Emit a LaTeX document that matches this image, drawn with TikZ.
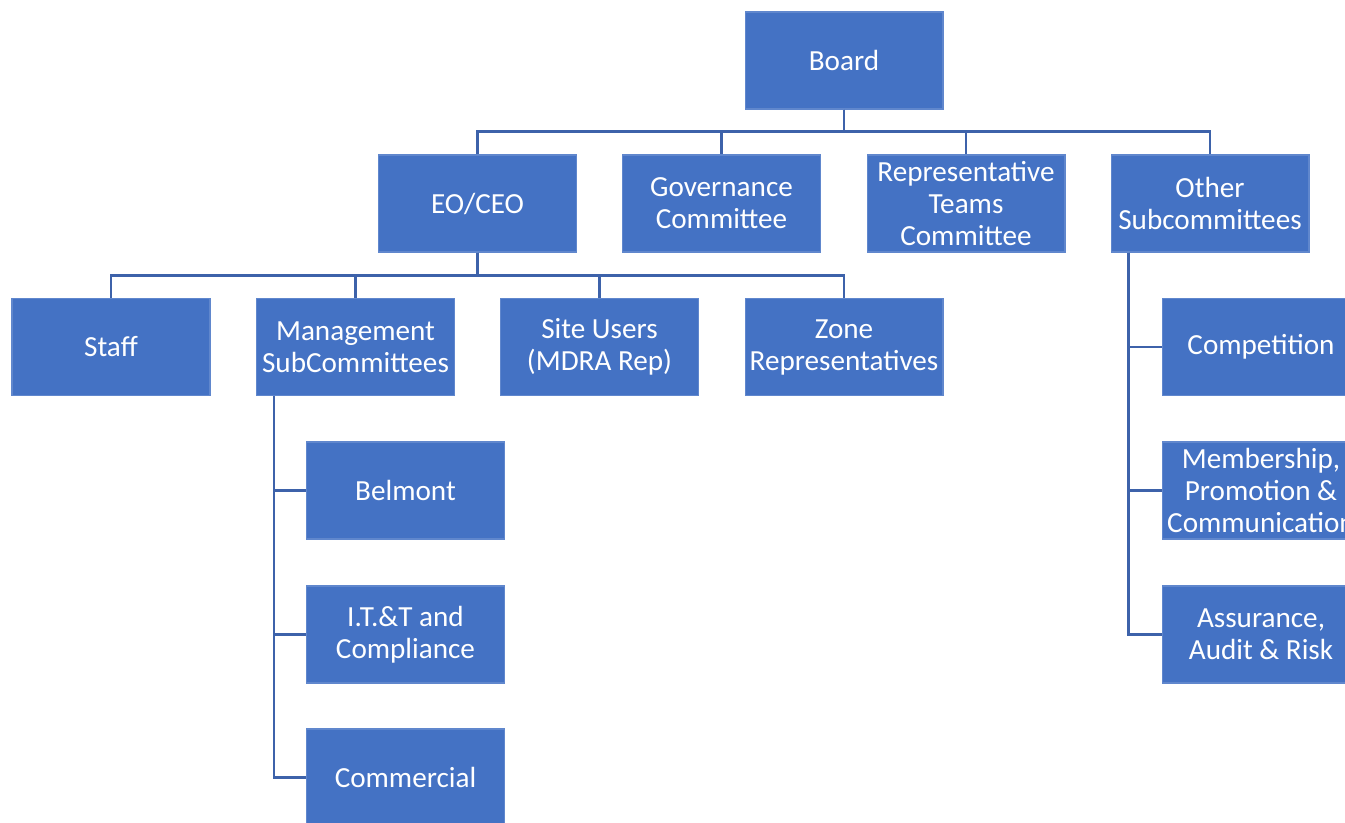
\documentclass[tikz,border=0pt]{standalone}
\usepackage{fontspec}
\setmainfont{Carlito}
\usepackage{tikz}
\usetikzlibrary{positioning, calc}
\definecolor{boxblue}{HTML}{4472C4}
\definecolor{lineblue}{HTML}{3D62AA}
\tikzset{
  unit/.style={fill=boxblue, draw=boxblue!85!white, line width=0.6pt, text=white,
    minimum width=3.96cm, minimum height=1.94cm, inner sep=0pt,
    align=center, font=\fontsize{16.6}{18.2}\selectfont},
  link/.style={draw=lineblue, line width=1.6pt}
}

\begin{document}
\begin{tikzpicture}[x=0.02cm, y=-0.02cm]
    \clip (0,0) rectangle (1345,822);
    \useasboundingbox (0,0) rectangle (1345,822);

    \node[unit] (board) at (844,60.5) {Board};

    \node[unit] (eo) at (477.5,203.5) {EO/CEO};
    \node[unit] (gov) at (721.5,203.5) {Governance\\Committee};
    \node[unit] (rep) at (966,203.5) {Representative\\Teams\\Committee};
    \node[unit] (oth) at (1210,203.5) {Other\\Subcommittees};

    \node[unit] (staff) at (111,347) {Staff};
    \node[unit] (mgmt) at (355.5,347) {Management\\SubCommittees};
    \node[unit] (site) at (599.5,347) {Site Users\\(MDRA Rep)};
    \node[unit] (zone) at (844,347) {Zone\\Representatives};

    \node[unit] (belmont) at (405.5,490.5) {Belmont};
    \node[unit] (itt) at (405.5,634.5) {I.T.\&T and\\Compliance};
    \node[unit] (comm) at (405.5,777.5) {Commercial};

    \node[unit] (compet) at (1261,347) {Competition};
    \node[unit] (member) at (1261,490.5) {Membership,\\Promotion \&\\Communication};
    \node[unit] (assur) at (1261,634.5) {Assurance,\\Audit \& Risk};

    % board to its committees
    \foreach \n in {eo,gov,rep,oth}
      \draw[link] (board.south) -- ++(0,22) -| (\n.north);

    % eo/ceo to its units
    \foreach \n in {staff,mgmt,site,zone}
      \draw[link] (eo.south) -- ++(0,23) -| (\n.north);

    % management subcommittees
    \foreach \n in {belmont,itt,comm}
      \draw[link] ($(mgmt.south west)+(18,0)$) |- (\n.west);

    % other subcommittees
    \foreach \n in {compet,member,assur}
      \draw[link] ($(oth.south west)+(18,0)$) |- (\n.west);
\end{tikzpicture}
\end{document}
